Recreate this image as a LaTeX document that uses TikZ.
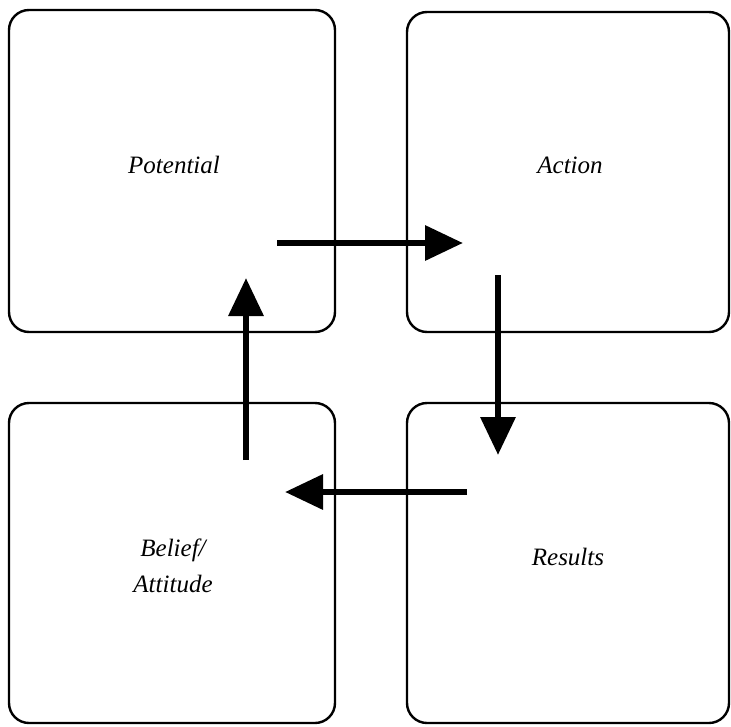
\documentclass[tikz,border=0pt]{standalone}
\usepackage{fontspec}
\setmainfont{Liberation Serif}
\usetikzlibrary{arrows.meta}
\tikzset{
  box/.style={draw, line width=2.4pt, rounded corners=20pt, minimum width=#1, inner sep=0pt},
  lbl/.style={font=\fontsize{25}{36}\selectfont\itshape, align=center, inner sep=0pt},
  flow/.style={line width=6.5pt, -{Triangle[length=38pt,width=34pt]}}
}
\begin{document}
\begin{tikzpicture}[x=1pt,y=-1pt]
\useasboundingbox (0,0) rectangle (731,726);
\node[box=326pt, minimum height=322pt] (pot) at (172,171) {};
\node[box=322pt, minimum height=320pt] (act) at (568,172) {};
\node[box=326pt, minimum height=320pt] (bel) at (172,563) {};
\node[box=322pt, minimum height=320pt] (res) at (568,563) {};
\node[lbl] (tpot) at (174,165) {Potential};
\node[lbl] (tact) at (570,165) {Action};
\node[lbl] (tres) at (568,557) {Results};
\node[lbl] (tbel) at (173,566) {Belief/\\Attitude};
\coordinate (r1) at (277,243);
\coordinate (r2) at (463,243);
\coordinate (d1) at (498,275);
\coordinate (d2) at (498,455);
\coordinate (l1) at (467,492);
\coordinate (l2) at (285,492);
\coordinate (u1) at (246,460);
\coordinate (u2) at (246,278);
\draw[flow] (r1) -- (r2);
\draw[flow] (d1) -- (d2);
\draw[flow] (l1) -- (l2);
\draw[flow] (u1) -- (u2);
\end{tikzpicture}
\end{document}
